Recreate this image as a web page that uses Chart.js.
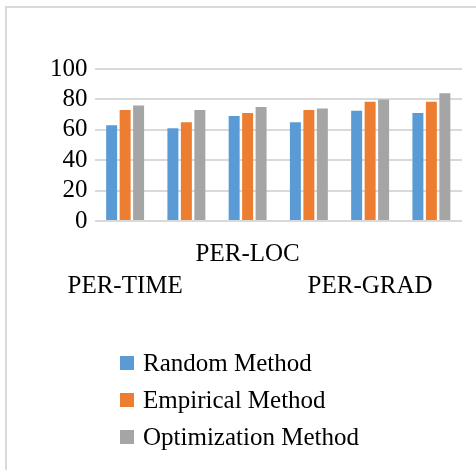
<!DOCTYPE html>
<html>
<head>
<meta charset="utf-8">
<script src="https://cdn.jsdelivr.net/npm/chart.js@4"></script>
<style>
  html, body { margin: 0; padding: 0; background: #fff; }
  .frame { position: absolute; left: 5px; top: 6px; width: 600px; height: 600px;
           border-top: 2px solid #d9d9d9; border-left: 2px solid #d9d9d9; }
  .wrap { position: absolute; left: 0; top: 0; width: 476px; height: 470px; overflow: hidden; }
</style>
</head>
<body>
<div class="wrap">
  <div class="frame"></div>
  <canvas id="chart" width="476" height="470" style="position:absolute;left:0;top:0;"></canvas>
</div>
<script>
// data
const categories = ['PER-TIME', '', 'PER-LOC', '', 'PER-GRAD', ''];
const randomMethod = [63, 61, 69, 65, 72.5, 71];
const empiricalMethod = [73, 65, 71, 73, 78.5, 78.5];
const optimizationMethod = [76, 73, 75, 74, 80, 84];
const yTicks = [0, 20, 40, 60, 80, 100];

// Excel staggers the long labels over two rows
const xLabels = categories.map((c, i) => (i % 4 === 2 ? [c, ''] : ['', c]));

const font = { family: "'Liberation Serif', 'Times New Roman', serif", size: 25 };

const legendPlugin = {
    id: 'vertLegend',
    afterDraw(chart) {
        const ctx = chart.ctx;
        ctx.save();
        ctx.font = font.size + 'px ' + font.family;
        ctx.textBaseline = 'middle';
        ctx.textAlign = 'left';
        chart.data.datasets.forEach((ds, i) => {
            const y = 363 + i * 37;
            ctx.fillStyle = ds.backgroundColor;
            ctx.fillRect(120, y - 7, 14, 14);
            ctx.fillStyle = '#000';
            ctx.fillText(ds.label, 143, y + 1);
        });
        ctx.restore();
    }
};

const ctx = document.getElementById('chart').getContext('2d');
const chart = new Chart(ctx, {
    type: 'bar',
    data: {
        labels: xLabels,
        datasets: [
            { label: 'Random Method', data: randomMethod, backgroundColor: '#5b9bd5' },
            { label: 'Empirical Method', data: empiricalMethod, backgroundColor: '#ed7d31' },
            { label: 'Optimization Method', data: optimizationMethod, backgroundColor: '#a5a5a5' }
        ]
    },
    options: {
        responsive: false,
        animation: false,
        devicePixelRatio: 1,
        layout: { padding: { top: 69, left: 43, right: 14, bottom: 151 } },
        datasets: { bar: { categoryPercentage: 0.66, barPercentage: 0.815 } },
        plugins: { legend: { display: false }, tooltip: { enabled: false } },
        scales: {
            x: {
                grid: { display: false, drawTicks: false },
                border: { display: false },
                ticks: {
                    color: '#000', font: { ...font, lineHeight: 1.28 },
                    autoSkip: false, maxRotation: 0, minRotation: 0, padding: 17
                }
            },
            y: {
                min: 0, max: 100,
                afterBuildTicks(axis) { axis.ticks = yTicks.map(v => ({ value: v })); },
                grid: { color: '#d9d9d9', lineWidth: 2, drawTicks: false },
                border: { display: false },
                ticks: { color: '#000', font: font, padding: 7, autoSkip: false }
            }
        }
    },
    plugins: [legendPlugin]
});
</script>
</body>
</html>
